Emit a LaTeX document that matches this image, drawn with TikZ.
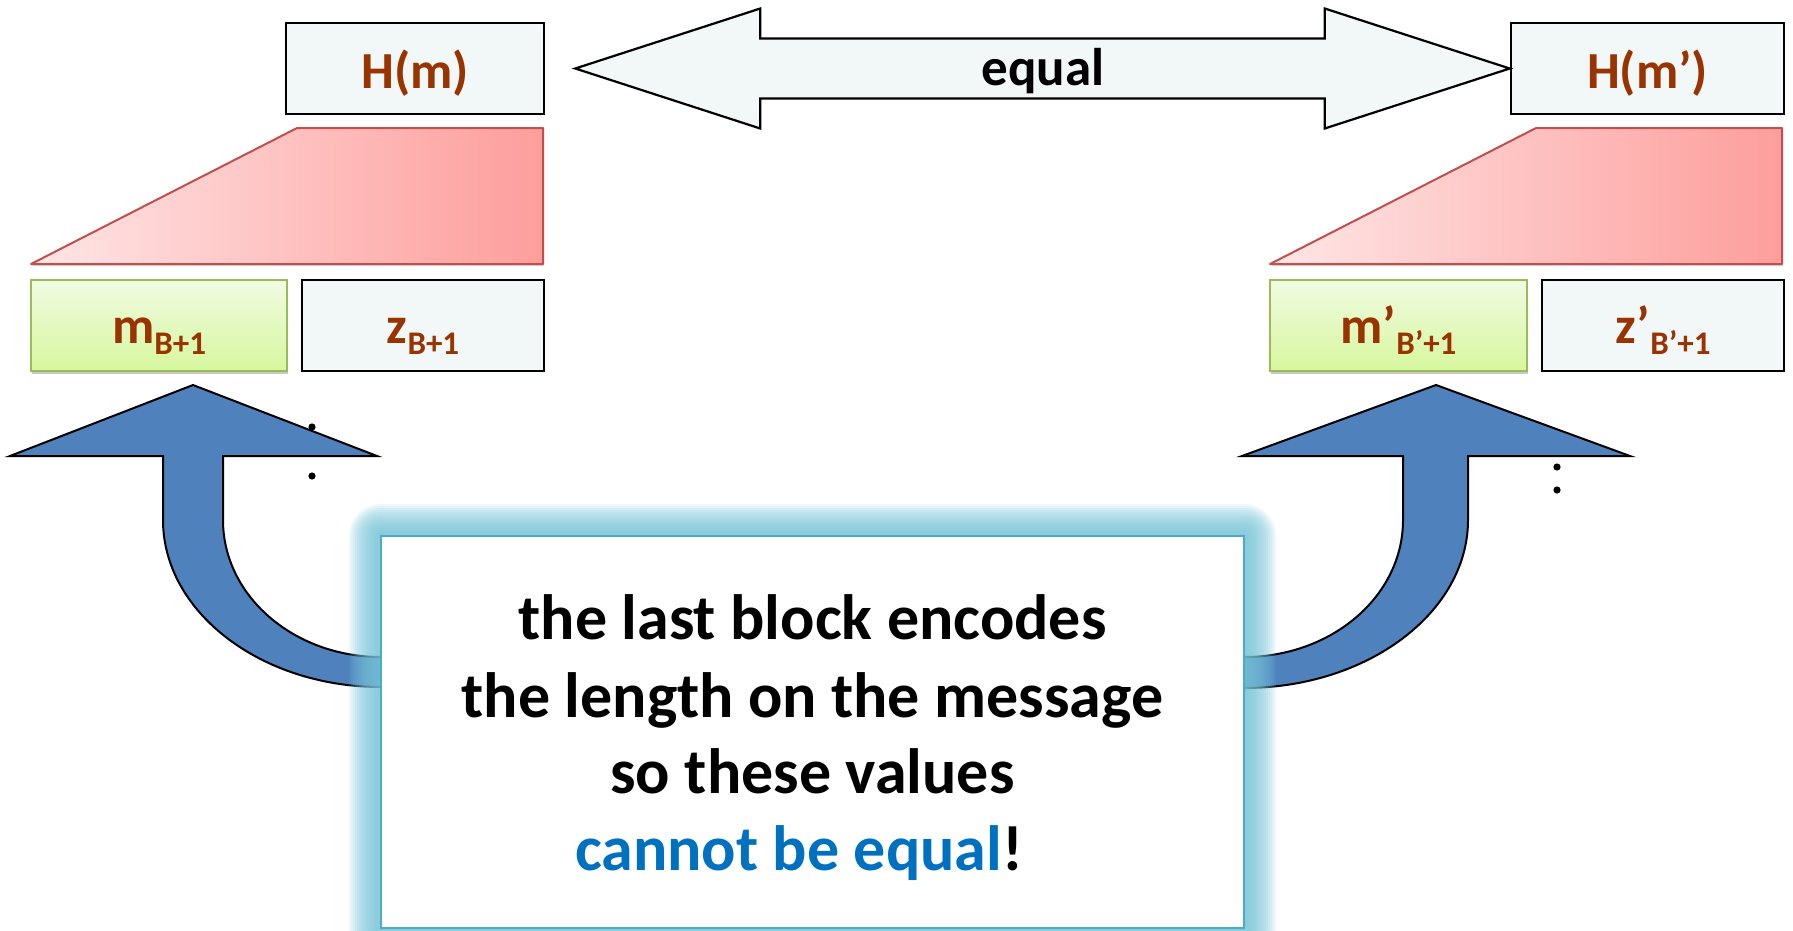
\documentclass[tikz,border=0pt]{standalone}
\usepackage{fontspec}
\setmainfont{Carlito}
\usetikzlibrary{shadows,calc}

\definecolor{cellfill}{RGB}{242,248,248}
\definecolor{labelbrown}{RGB}{153,51,0}
\definecolor{arrowblue}{RGB}{79,129,189}
\definecolor{greenedge}{RGB}{155,187,89}
\definecolor{greentop}{RGB}{241,251,226}
\definecolor{greenbot}{RGB}{214,247,158}
\definecolor{rededge}{RGB}{192,80,77}
\definecolor{redleft}{RGB}{255,230,230}
\definecolor{redright}{RGB}{253,158,156}
\definecolor{glowblue}{RGB}{120,196,216}
\definecolor{noteedge}{RGB}{75,172,198}
\definecolor{emphblue}{RGB}{0,112,192}

% block label: large base letter with a lowered subscript
\newcommand{\blocklabel}[2]{{\fontsize{52}{60}\selectfont #1}\raisebox{-11pt}{\fontsize{33}{40}\selectfont #2}}

\begin{document}
\begin{tikzpicture}[x=1pt,y=-1pt,
  cellbox/.style={draw=black, line width=2.5pt, fill=cellfill, inner sep=0pt,
    minimum height=91pt, text height=39pt, text depth=0pt,
    text=labelbrown, font=\bfseries\fontsize{52}{60}\selectfont},
  msgbox/.style={draw=greenedge, line width=2pt, top color=greentop, bottom color=greenbot,
    inner sep=0pt, minimum height=91pt, text height=35pt, text depth=0pt,
    text=labelbrown, font=\bfseries,
    drop shadow={shadow xshift=1pt, shadow yshift=-3pt, opacity=0.3, fill=black!70}},
  compress/.style={draw=rededge, line width=2pt, left color=redleft, right color=redright,
    line join=round,
    drop shadow={shadow xshift=1pt, shadow yshift=-2pt, opacity=0.2, fill=black!70}},
  bluearrow/.style={fill=arrowblue, draw=black, line width=2pt, line join=miter},
  dblarrow/.style={fill=cellfill, draw=black, line width=2.2pt, line join=miter},
  notetext/.style={font=\bfseries\fontsize{64}{76}\selectfont, anchor=base},
  vdot/.style={fill=black},
]
\useasboundingbox (0,0) rectangle (1793,930);
\clip (0,0) rectangle (1793,930);

% ---- left chain: final compression step ----
\node[cellbox, minimum width=258pt] (hm) at (415,68.5) {H(m)};
\path[compress] (297,128) -- (543,128) -- (543,264) -- (31,264) -- cycle;
\node[msgbox, minimum width=256pt] (mb) at (159,325.5) {\blocklabel{m}{B+1}};
\node[cellbox, minimum width=242pt, text height=35pt] (zb) at (423,325.5) {\blocklabel{z}{B+1}};

% ---- right chain: final compression step ----
\node[cellbox, minimum width=273pt] (hmp) at (1647.5,68.5) {H(m’)};
\path[compress] (1536,128) -- (1782,128) -- (1782,264) -- (1270,264) -- cycle;
\node[msgbox, minimum width=257pt] (mbp) at (1398.5,325.5) {\blocklabel{m’}{B’+1}};
\node[cellbox, minimum width=242pt, text height=35pt] (zbp) at (1663,325.5) {\blocklabel{z’}{B’+1}};

% ---- double arrow between the two digests ----
\coordinate (eqL) at ($(hm.east)+(30,0)$);
\coordinate (eqR) at (hmp.west);
\draw[dblarrow] (eqL) -- ++(185,-60) -- ++(0,30) -- ($(eqR)+(-185,-30)$) -- ++(0,-30)
  -- (eqR) -- ++(-185,60) -- ++(0,-30) -- ($(eqL)+(185,30)$) -- ++(0,30) -- cycle;
\node[font=\bfseries\fontsize{53}{60}\selectfont, anchor=base] (eqtext) at (1043,85) {equal};

% ---- curved block arrows pointing up at the last message blocks ----
\path[bluearrow] (381,657) .. controls (294,657) and (223,596) .. (223,520)
  -- (223,456) -- (377,456) -- (193,385) -- (10,456) -- (163,456) -- (163,520)
  .. controls (163,612) and (261,687) .. (381,687) -- cycle;
\path[bluearrow] (1244,657) .. controls (1332,657) and (1403,596) .. (1403,520)
  -- (1403,456) -- (1242,456) -- (1436,385) -- (1630,456) -- (1468,456) -- (1468,520)
  .. controls (1468,612) and (1368,688) .. (1244,688) -- cycle;

% vertical ellipsis dots
\fill[vdot] (312,427) circle (3.6);
\fill[vdot] (312,476) circle (3.6);
\fill[vdot] (1557,467) circle (3.6);
\fill[vdot] (1557,490) circle (3.6);

% ---- note box with soft outer glow ----
\foreach \w in {4,8,...,64}
  \draw[glowblue, line width=\w pt, opacity=0.12, line join=round] (381,536) rectangle (1244,928);
\node[draw=noteedge, line width=2pt, fill=white, minimum width=863pt, minimum height=392pt,
  inner sep=0pt] (note) at (812.5,732) {};
\node[notetext] (line1) at (812.5,639) {the last block encodes};
\node[notetext] (line2) at (812.5,717) {the length on the message};
\node[notetext] (line3) at (812.5,793) {so these values};
\node[notetext] (line4) at (799,870) {\textcolor{emphblue}{cannot be equal}!};
\end{tikzpicture}
\end{document}
